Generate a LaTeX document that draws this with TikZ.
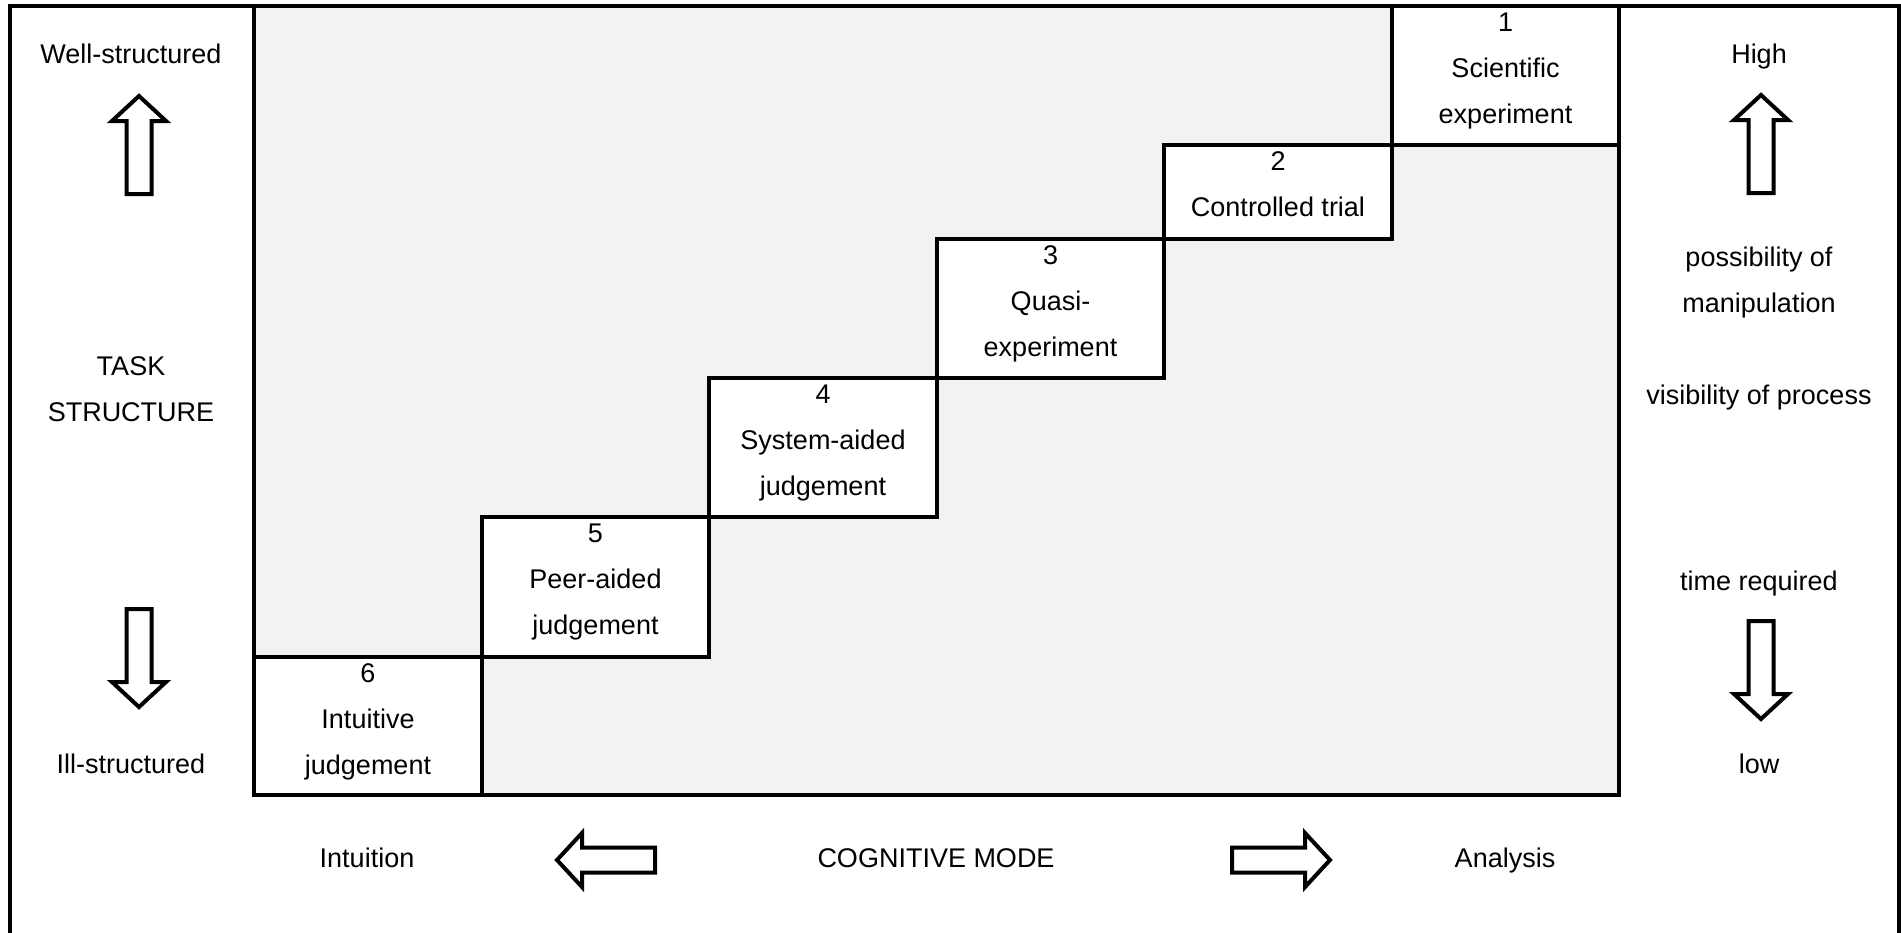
\documentclass[tikz,border=0pt]{standalone}
\usepackage{fontspec}
\setmainfont{Liberation Sans}
\definecolor{panelgray}{RGB}{242,242,242}
\tikzset{
  framerule/.style={line width=1.75pt},
  stepbox/.style={draw, line width=1.75pt, fill=white, rectangle,
    inner sep=0pt, outer sep=0pt, anchor=north west},
  lbl/.style={font=\fontsize{13.5pt}{23pt}\selectfont, align=center,
    inner sep=0pt, anchor=north},
  fatarrow/.pic={
    \draw[line width=2pt, fill=white, miter limit=10]
      (0,0) -- (27,25) -- (12.5,25) -- (12.5,98) -- (-12.5,98)
      -- (-12.5,25) -- (-27,25) -- cycle;
  }
}
\begin{document}
\begin{tikzpicture}[x=0.5pt, y=-0.5pt]
\useasboundingbox (0,0) rectangle (1901,932);

% outer frame (runs past the lower edge of the page)
\begin{scope}
  \clip (0,0) rectangle (1901,932);
  \draw[framerule] (10,6) rectangle (1899,1000);
\end{scope}

% shaded field behind the staircase
\draw[framerule, fill=panelgray] (254,6) rectangle (1619,795);

% staircase of modes of inquiry
\node[stepbox, minimum width=113.5pt, minimum height=69.5pt] (b1) at (1392,6) {};
\node[stepbox, minimum width=114pt,   minimum height=47pt]   (b2) at (1164,145) {};
\node[stepbox, minimum width=113.5pt, minimum height=69.5pt] (b3) at (937,239) {};
\node[stepbox, minimum width=114pt,   minimum height=69.5pt] (b4) at (709,378) {};
\node[stepbox, minimum width=113.5pt, minimum height=70pt]   (b5) at (482,517) {};
\node[stepbox, minimum width=114pt,   minimum height=69pt]   (b6) at (254,657) {};

\node[lbl] (t1) at ([yshift=3.6pt]b1.north) {\strut 1\\Scientific\\experiment};
\node[lbl] (t2) at ([yshift=3.6pt]b2.north) {\strut 2\\Controlled trial};
\node[lbl] (t3) at ([yshift=3.6pt]b3.north) {\strut 3\\Quasi-\\experiment};
\node[lbl] (t4) at ([yshift=3.6pt]b4.north) {\strut 4\\System-aided\\judgement};
\node[lbl] (t5) at ([yshift=3.6pt]b5.north) {\strut 5\\Peer-aided\\judgement};
\node[lbl] (t6) at ([yshift=3.6pt]b6.north) {\strut 6\\Intuitive\\judgement};

% task structure axis (left)
\node[lbl] (wellstr) at (131,30.8)  {\strut Well-structured};
\node[lbl] (taskstr) at (131,342.8) {\strut TASK\\STRUCTURE};
\node[lbl] (illstr)  at (131,740.8) {\strut Ill-structured};
\pic at (139,96) {fatarrow};
\pic[rotate=180] at (139,707) {fatarrow};

% properties axis (right)
\node[lbl] (high)  at (1759,30.8)  {\strut High};
\node[lbl] (manip) at (1759,233.8) {\strut possibility of\\manipulation};
\node[lbl] (visib) at (1759,371.8) {\strut visibility of process};
\node[lbl] (timer) at (1759,557.8) {\strut time required};
\node[lbl] (low)   at (1759,740.8) {\strut low};
\pic at (1761,95) {fatarrow};
\pic[rotate=180] at (1761,719) {fatarrow};

% cognitive mode axis (bottom)
\node[lbl] (intu)  at (367,834.8)  {\strut Intuition};
\node[lbl] (cogm)  at (936,834.8)  {\strut COGNITIVE MODE};
\node[lbl] (analy) at (1505,834.8) {\strut Analysis};
\pic[rotate=90]  at (557,860)  {fatarrow};
\pic[rotate=-90] at (1330,860) {fatarrow};
\end{tikzpicture}
\end{document}
